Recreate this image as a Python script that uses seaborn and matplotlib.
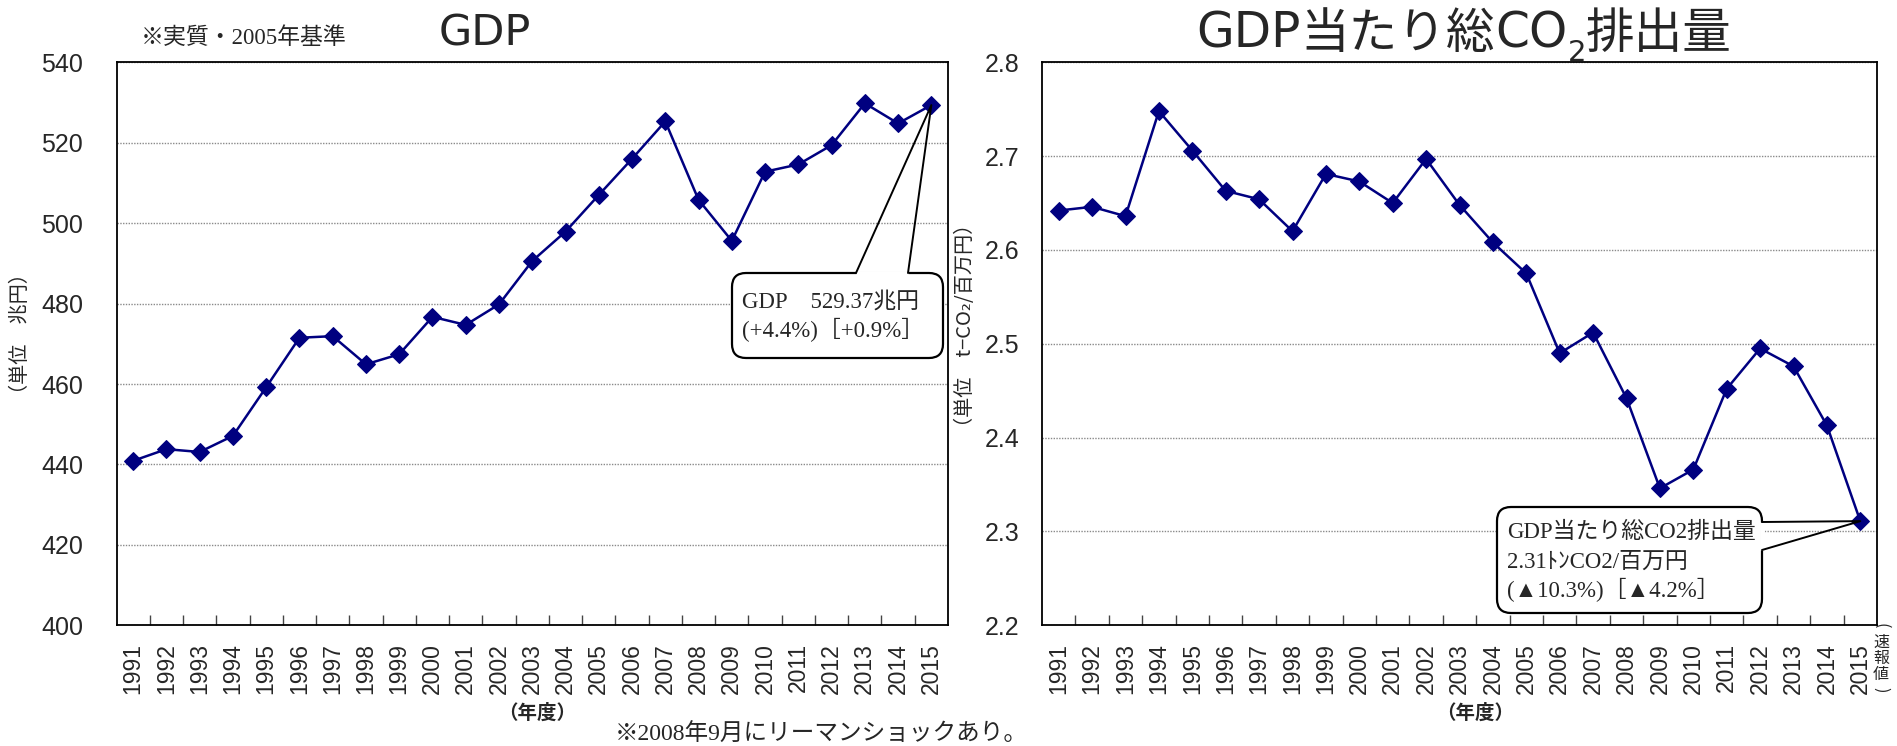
import numpy as np
import pandas as pd
import matplotlib
matplotlib.use("Agg")
import matplotlib.pyplot as plt
import seaborn as sns
from matplotlib.patches import FancyBboxPatch
from matplotlib.lines import Line2D
from matplotlib.transforms import IdentityTransform

# ---------------- data ----------------
years = list(range(1991, 2016))
gdp = [440.9, 443.8, 443.1, 447.1, 459.2, 471.5, 471.9, 464.9, 467.4, 476.7,
       474.7, 479.8, 490.6, 497.9, 507.0, 516.0, 525.3, 505.8, 495.6, 512.8,
       514.6, 519.4, 529.8, 524.8, 529.37]
co2_per_gdp = [2.642, 2.646, 2.636, 2.748, 2.706, 2.663, 2.654, 2.620, 2.681, 2.673,
               2.650, 2.697, 2.648, 2.608, 2.575, 2.490, 2.512, 2.442, 2.346, 2.366,
               2.452, 2.495, 2.476, 2.413, 2.311]
gdp_yticks = [400, 420, 440, 460, 480, 500, 520, 540]
co2_yticks = [2.2, 2.3, 2.4, 2.5, 2.6, 2.7, 2.8]
gdp_note = ["GDP　529.37兆円", "(+4.4%)［+0.9%］"]
co2_note = ["GDP当たり総CO2排出量", "2.31ﾄﾝCO2/百万円", "(▲10.3%)［▲4.2%］"]
prelim_chars = ["(", "速", "報", "値", ")"]

# ---------------- style ----------------
sns.set_theme(style="white")
CJK = "Noto Sans CJK JP"
plt.rcParams["font.family"] = ["DejaVu Sans", CJK]
SERIF = ["Liberation Serif", CJK]
SANS_CJK = [CJK, "DejaVu Sans"]
LIB = ["Liberation Sans", "DejaVu Sans"]
NAVY = "#000080"

W, H = 1897, 746
fig = plt.figure(figsize=(W / 100, H / 100), dpi=100)
top_px, bot_px = 62.3, 625.3


def axes_rect(l, r):
    return [l / W, 1 - bot_px / H, (r - l) / W, (bot_px - top_px) / H]


ax1 = fig.add_axes(axes_rect(116.5, 948))
ax2 = fig.add_axes(axes_rect(1042, 1877))

for ax, vals, yt, fmt, ypad in ((ax1, gdp, gdp_yticks, "{:d}", 24),
                                (ax2, co2_per_gdp, co2_yticks, "{:.1f}", 16.5)):
    sns.lineplot(x=years, y=vals, ax=ax, color=NAVY, linewidth=1.8, marker="D",
                 markersize=9.5, markeredgecolor=NAVY, markerfacecolor=NAVY, zorder=3)
    ax.set_xlim(years[0] - 0.5, years[-1] + 0.5)
    ax.set_ylim(yt[0], yt[-1])
    ax.set_xticks(years)
    ax.set_xticklabels([str(y) for y in years], rotation=90, fontfamily=LIB,
                       fontsize=16.5)
    ax.set_xticks(np.array(years[:-1]) + 0.5, minor=True)
    ax.tick_params(axis="x", which="major", bottom=True, length=0, pad=13)
    ax.tick_params(axis="x", which="minor", bottom=True, direction="in", length=7,
                   width=1, color="#444444")
    ax.set_yticks(yt)
    ax.set_yticklabels([fmt.format(v) for v in yt], fontfamily=LIB, fontsize=18)
    ax.tick_params(axis="y", which="major", left=False, length=0, pad=ypad)
    ax.yaxis.grid(True, color="#8a8a8a", linestyle=(0, (1, 1)), linewidth=1)
    ax.xaxis.grid(False)
    for s in ax.spines.values():
        s.set_visible(True)
        s.set_color("black")
        s.set_linewidth(1.3)

# axis labels
ax1.set_ylabel("（単位　兆円）", fontsize=14.5, fontfamily=SANS_CJK, va="center")
ax1.yaxis.set_label_coords(-0.116, 0.519)
ax2.set_ylabel("（単位　t−CO₂/百万円）", fontsize=14.5, fontfamily=SANS_CJK, va="center")
ax2.yaxis.set_label_coords(-0.092, 0.533)
ax1.set_xlabel("（年度）", fontsize=14, fontfamily=SANS_CJK, fontweight="bold", va="center")
ax1.xaxis.set_label_coords(0.506, -0.156)
ax2.set_xlabel("（年度）", fontsize=14, fontfamily=SANS_CJK, fontweight="bold", va="center")
ax2.xaxis.set_label_coords(0.519, -0.156)


def px(x, y):
    """image pixel (from top-left) -> figure fraction"""
    return x / W, 1 - y / H


renderer = fig.canvas.get_renderer()


def draw_runs(runs, cx, base_y):
    items = []
    total = 0
    for s, size, dy, fam in runs:
        t = fig.text(0, 0, s, fontsize=size, fontfamily=fam, ha="left", va="baseline",
                     transform=IdentityTransform())
        w = t.get_window_extent(renderer).width
        items.append((t, w, dy))
        total += w
    x = cx - total / 2
    for t, w, dy in items:
        t.set_position((x, H - base_y - dy))
        x += w


# titles
draw_runs([("GDP", 31, 0, ["DejaVu Sans", CJK])], 485, 46)
draw_runs([("GDP", 35, 0, ["DejaVu Sans", CJK]),
           ("当たり総", 35, 0, SANS_CJK),
           ("CO", 35, 0, ["DejaVu Sans", CJK]),
           ("2", 21, 13, ["DejaVu Sans", CJK]),
           ("排出量", 35, 0, SANS_CJK)], 1464, 48)

fig.text(*px(141, 38), "※実質・2005年基準", fontsize=16.5, fontfamily=SERIF,
         ha="left", va="center")
fig.text(*px(615, 735), "※2008年9月にリーマンショックあり。", fontsize=17,
         fontfamily=SERIF, ha="left", va="center")

# vertical "（速報値）" beside the last tick label
prelim_y = [626, 642, 658, 674, 690]
for ch, yy in zip(prelim_chars, prelim_y):
    rot = -90 if ch in "()" else 0
    fig.text(*px(1881, yy), ch, fontsize=11.5, fontfamily=SANS_CJK,
             ha="center", va="center", rotation=rot)


# callouts
def callout(box, base, tip, radius=14):
    x0, yt, x1, yb = box
    patch = FancyBboxPatch((x0, H - yb), x1 - x0, yb - yt,
                           boxstyle=f"round,pad=0,rounding_size={radius}",
                           transform=IdentityTransform(), fc="white", ec="black",
                           lw=1.6, zorder=6)
    fig.add_artist(patch)
    (bx1, by1), (bx2, by2) = base
    fig.add_artist(Line2D([bx1, bx2], [H - by1, H - by2], color="white", lw=3.5,
                          transform=IdentityTransform(), zorder=7,
                          solid_capstyle="butt"))
    fig.add_artist(Line2D([bx1, tip[0], bx2], [H - by1, tip[1], H - by2],
                          color="black", lw=1.4, transform=IdentityTransform(),
                          zorder=8))


tip1 = ax1.transData.transform((years[-1], gdp[-1]))
callout((732, 273, 943, 358), [(856, 273), (908, 273)], tip1)
for line, y in zip(gdp_note, (302, 330)):
    fig.text(*px(742, y), line, fontsize=16.5, fontfamily=SERIF, ha="left",
             va="center", zorder=9)

tip2 = ax2.transData.transform((years[-1], co2_per_gdp[-1]))
callout((1497, 507, 1762, 613), [(1762, 522), (1762, 550)], tip2)
for line, y in zip(co2_note, (532, 562, 590)):
    fig.text(*px(1507, y), line, fontsize=16.5, fontfamily=SERIF, ha="left",
             va="center", zorder=9)

fig.savefig("out.png", dpi=100)
